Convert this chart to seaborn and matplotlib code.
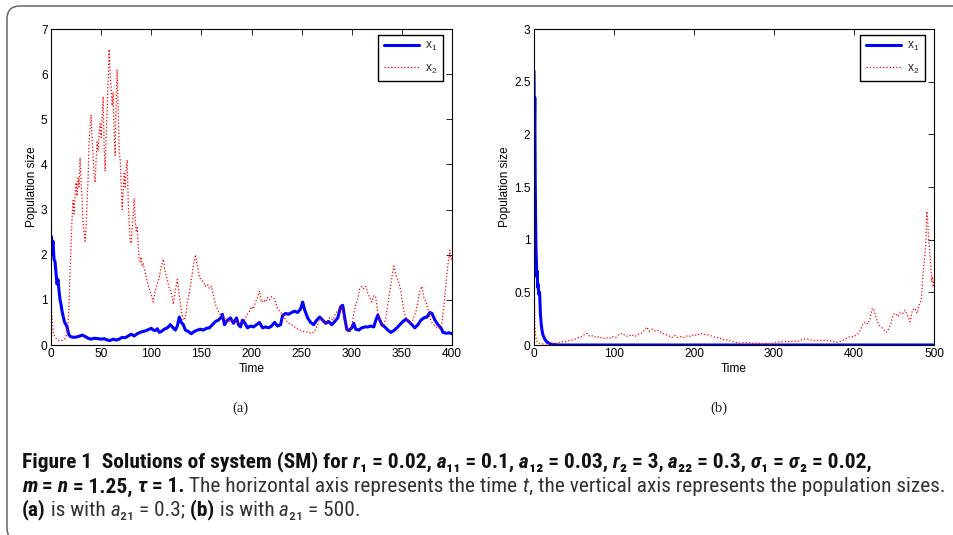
import matplotlib
matplotlib.use("Agg")
import matplotlib.pyplot as plt
import seaborn as sns
from matplotlib import font_manager as fm
from matplotlib.offsetbox import TextArea, HPacker, AnnotationBbox
from matplotlib.patches import FancyBboxPatch
from matplotlib.ticker import FormatStrFormatter

# ---------------- data ----------------
# panel (a): a21 = 0.3
t_a_x1 = [0, 0.5, 1, 2, 3, 4, 5, 6, 7, 8,
          9, 10, 11, 12, 13, 14, 15, 16, 17, 18,
          20, 23, 26, 29, 31, 34, 37, 40, 43, 47,
          50, 53, 56, 59, 62, 65, 68, 71, 74, 77,
          80, 83, 86, 89, 92, 95, 98, 100, 102, 104,
          106, 108, 110, 113, 116, 119, 121, 124, 126, 128,
          130, 132, 134, 137, 140, 143, 146, 149, 152, 155,
          158, 161, 164, 167, 170, 171, 173, 176, 179, 182,
          185, 187, 189, 191, 193, 196, 199, 202, 205, 208,
          211, 214, 217, 220, 223, 226, 229, 231, 234, 237,
          240, 243, 246, 249, 251, 253, 256, 259, 262, 265,
          268, 271, 274, 277, 280, 283, 286, 289, 291, 293,
          295, 297, 300, 302, 304, 307, 310, 313, 316, 319,
          322, 324, 326, 328, 330, 333, 336, 339, 342, 345,
          348, 351, 354, 357, 360, 363, 366, 369, 372, 375,
          378, 380, 383, 386, 389, 391, 394, 397, 400]
x_a_x1 = [2.0, 2.4, 2.1, 2.3, 1.9, 1.85, 1.6, 1.35, 1.45, 1.2,
          1.0, 0.9, 0.75, 0.65, 0.55, 0.48, 0.45, 0.4, 0.3, 0.22,
          0.18, 0.17, 0.18, 0.2, 0.22, 0.19, 0.15, 0.13, 0.15, 0.14,
          0.13, 0.14, 0.11, 0.1, 0.13, 0.11, 0.13, 0.17, 0.16, 0.2,
          0.24, 0.2, 0.25, 0.28, 0.3, 0.32, 0.35, 0.37, 0.33, 0.32,
          0.36, 0.28, 0.3, 0.35, 0.38, 0.45, 0.4, 0.33, 0.42, 0.62,
          0.5, 0.45, 0.33, 0.3, 0.25, 0.3, 0.33, 0.35, 0.33, 0.37,
          0.38, 0.45, 0.52, 0.55, 0.62, 0.68, 0.45, 0.55, 0.6, 0.48,
          0.6, 0.45, 0.4, 0.55, 0.5, 0.38, 0.42, 0.4, 0.45, 0.5,
          0.38, 0.4, 0.38, 0.42, 0.5, 0.42, 0.45, 0.65, 0.7, 0.68,
          0.72, 0.75, 0.72, 0.8, 0.95, 0.78, 0.6, 0.5, 0.45, 0.55,
          0.62, 0.55, 0.48, 0.52, 0.45, 0.52, 0.6, 0.85, 0.88, 0.6,
          0.35, 0.32, 0.38, 0.48, 0.35, 0.33, 0.38, 0.4, 0.4, 0.42,
          0.4, 0.55, 0.66, 0.55, 0.45, 0.4, 0.33, 0.28, 0.32, 0.38,
          0.45, 0.52, 0.57, 0.52, 0.45, 0.38, 0.45, 0.55, 0.6, 0.62,
          0.72, 0.7, 0.55, 0.45, 0.38, 0.28, 0.26, 0.27, 0.25]

t_a_x2 = [0, 1, 2, 3, 5, 8, 11, 14, 16, 17,
          18, 19, 20, 21, 22, 23, 24, 25, 26, 27,
          28, 29, 30, 31, 32, 33, 34, 35, 36, 37,
          38, 39, 40, 41, 42, 43, 44, 45, 46, 47,
          48, 49, 50, 51, 52, 53, 54, 55, 56, 57,
          58, 59, 60, 61, 62, 63, 64, 65, 66, 67,
          68, 69, 70, 71, 72, 73, 74, 75, 76, 77,
          78, 79, 80, 81, 82, 83, 84, 85, 86, 87,
          88, 89, 90, 91, 92, 94, 96, 98, 100, 102,
          104, 106, 108, 110, 112, 114, 116, 118, 120, 122,
          124, 126, 128, 130, 132, 134, 136, 138, 140, 142,
          144, 146, 148, 150, 152, 154, 156, 158, 160, 162,
          164, 166, 168, 170, 173, 176, 180, 184, 188, 192,
          195, 198, 200, 202, 204, 206, 208, 210, 212, 214,
          216, 218, 220, 222, 224, 226, 228, 230, 233, 236,
          240, 244, 248, 252, 256, 260, 263, 266, 268, 270,
          272, 275, 278, 281, 284, 287, 290, 292, 294, 296,
          298, 300, 302, 304, 306, 308, 310, 312, 314, 316,
          318, 320, 322, 324, 326, 328, 330, 332, 334, 336,
          338, 340, 342, 344, 346, 348, 350, 352, 354, 356,
          358, 361, 364, 366, 368, 370, 372, 374, 376, 378,
          380, 382, 385, 388, 390, 392, 394, 396, 398, 399,
          400]
x_a_x2 = [0.95, 0.6, 0.35, 0.22, 0.15, 0.1, 0.1, 0.14, 0.25, 0.45,
          0.9, 1.6, 2.2, 2.8, 3.2, 2.9, 3.3, 3.6, 3.3, 3.7,
          3.5, 4.15, 3.6, 3.2, 2.7, 2.5, 2.3, 2.6, 3.2, 3.7,
          4.5, 4.8, 5.1, 4.6, 4.2, 3.8, 3.6, 4.1, 4.5, 4.3,
          4.7, 4.9, 4.6, 5.0, 5.5, 4.4, 3.85, 4.6, 5.2, 5.9,
          6.55, 6.0, 5.7, 5.3, 5.6, 4.7, 4.2, 5.4, 6.1, 5.2,
          4.3, 4.1, 3.6, 3.0, 3.4, 3.8, 3.5, 3.9, 4.1, 3.2,
          2.7, 2.3, 2.25, 2.6, 2.9, 3.25, 2.8, 2.5, 2.6, 2.2,
          1.9, 1.85, 1.95, 1.75, 1.8, 1.6, 1.4, 1.25, 1.1, 0.95,
          1.2, 1.35, 1.5, 1.75, 1.9, 1.6, 1.45, 1.25, 1.15, 0.9,
          1.2, 1.45, 1.1, 0.75, 0.55, 0.6, 0.95, 1.15, 1.45, 1.75,
          2.0, 1.75, 1.5, 1.45, 1.4, 1.3, 1.35, 1.25, 1.3, 1.1,
          0.9, 0.8, 0.7, 0.65, 0.6, 0.5, 0.55, 0.55, 0.45, 0.5,
          0.65, 0.75, 0.85, 0.8, 0.95, 1.05, 1.2, 0.95, 1.0, 0.95,
          1.05, 1.0, 1.07, 1.05, 0.95, 0.8, 0.75, 0.7, 0.6, 0.5,
          0.45, 0.38, 0.33, 0.3, 0.28, 0.26, 0.3, 0.45, 0.58, 0.55,
          0.48, 0.5, 0.6, 0.55, 0.7, 0.78, 0.85, 0.6, 0.4, 0.3,
          0.28, 0.4, 0.7, 0.9, 1.0, 1.25, 1.3, 1.25, 1.3, 1.15,
          1.05, 0.95, 1.1, 1.05, 0.7, 0.6, 0.48, 0.45, 0.6, 0.9,
          1.2, 1.5, 1.75, 1.55, 1.45, 1.3, 1.05, 0.75, 0.6, 0.55,
          0.5, 0.55, 0.75, 0.95, 1.2, 1.3, 1.05, 0.95, 0.8, 0.6,
          0.5, 0.45, 0.38, 0.36, 0.5, 0.9, 1.35, 1.8, 2.1, 1.9,
          1.95]

# panel (b): a21 = 500
t_b_x1 = [0, 0.5, 1, 1.5, 2, 2.5, 3, 3.5, 4, 4.5,
          5, 6, 7, 8, 9, 10, 11, 12, 14, 16,
          18, 20, 30, 100, 200, 300, 400, 500]
x_b_x1 = [2.6, 2.0, 2.35, 1.6, 1.2, 0.9, 0.8, 0.65, 0.7, 0.55,
          0.58, 0.48, 0.5, 0.3, 0.2, 0.14, 0.1, 0.08, 0.05, 0.03,
          0.02, 0.01, 0.0, 0.0, 0.0, 0.0, 0.0, 0.0]

t_b_x2 = [0, 0.5, 1, 2, 4, 8, 15, 20, 25, 30,
          35, 40, 45, 50, 55, 60, 63, 66, 70, 74,
          78, 82, 86, 90, 94, 98, 102, 106, 110, 114,
          118, 122, 126, 130, 134, 138, 141, 144, 148, 152,
          156, 160, 164, 168, 172, 176, 180, 184, 188, 192,
          196, 200, 204, 208, 212, 216, 220, 224, 228, 232,
          236, 240, 245, 250, 255, 260, 265, 270, 275, 280,
          285, 290, 295, 300, 305, 310, 315, 320, 325, 330,
          335, 340, 345, 350, 355, 360, 365, 370, 375, 380,
          385, 390, 395, 400, 404, 408, 411, 414, 417, 420,
          423, 425, 428, 431, 434, 437, 440, 443, 446, 449,
          452, 455, 458, 461, 464, 467, 470, 473, 476, 479,
          482, 484, 486, 488, 490, 491, 492, 493, 494, 495,
          496, 497, 498, 499, 500]
x_b_x2 = [0.95, 0.5, 0.2, 0.08, 0.03, 0.01, 0.01, 0.01, 0.015, 0.02,
          0.03, 0.035, 0.045, 0.05, 0.07, 0.08, 0.1, 0.11, 0.08, 0.09,
          0.07, 0.08, 0.06, 0.07, 0.06, 0.08, 0.07, 0.1, 0.11, 0.09,
          0.08, 0.1, 0.08, 0.1, 0.11, 0.14, 0.17, 0.13, 0.15, 0.13,
          0.14, 0.11, 0.1, 0.09, 0.07, 0.09, 0.07, 0.08, 0.07, 0.09,
          0.08, 0.1, 0.09, 0.11, 0.1, 0.1, 0.09, 0.08, 0.07, 0.07,
          0.05, 0.05, 0.04, 0.03, 0.02, 0.02, 0.025, 0.02, 0.015, 0.02,
          0.01, 0.015, 0.01, 0.02, 0.03, 0.03, 0.035, 0.03, 0.04, 0.035,
          0.05, 0.06, 0.05, 0.04, 0.045, 0.04, 0.045, 0.04, 0.03, 0.025,
          0.04, 0.06, 0.08, 0.08, 0.1, 0.14, 0.2, 0.22, 0.2, 0.25,
          0.35, 0.33, 0.25, 0.19, 0.17, 0.15, 0.12, 0.15, 0.2, 0.29,
          0.3, 0.27, 0.31, 0.3, 0.33, 0.28, 0.22, 0.33, 0.35, 0.3,
          0.4, 0.42, 0.65, 0.8, 1.0, 1.27, 1.2, 1.05, 0.95, 0.85,
          0.75, 0.6, 0.65, 0.55, 0.6]

xticks_a = [0, 50, 100, 150, 200, 250, 300, 350, 400]
yticks_a = [0, 1, 2, 3, 4, 5, 6, 7]
xticks_b = [0, 100, 200, 300, 400, 500]
yticks_b = [0, 0.5, 1, 1.5, 2, 2.5, 3]
series_labels = [r"$\mathregular{x_1}$", r"$\mathregular{x_2}$"]
xlabel = "Time"
ylabel = "Population size"
panel_labels = ["(a)", "(b)"]

# ---------------- styling ----------------
sns.set_theme(style="white")
plt.rcParams["font.family"] = ["Liberation Sans", "DejaVu Sans"]
plt.rcParams["axes.linewidth"] = 0.8

W, H = 954, 535
fig = plt.figure(figsize=(W / 100, H / 100), dpi=100)
fig.patch.set_facecolor("white")


def fpos(x0, y_top, w, h):
    return [x0 / W, 1 - (y_top + h) / H, w / W, h / H]


axA = fig.add_axes(fpos(51, 29, 401, 316))
axB = fig.add_axes(fpos(534, 29, 400, 316))

FS = 8.6
panels = [
    (axA, t_a_x1, x_a_x1, t_a_x2, x_a_x2, (0, 400), (0, 7), xticks_a, yticks_a),
    (axB, t_b_x1, x_b_x1, t_b_x2, x_b_x2, (0, 500), (0, 3), xticks_b, yticks_b),
]
for ax, t1, v1, t2, v2, xl, yl, xt, yt in panels:
    sns.lineplot(x=t1, y=v1, ax=ax, color=(0, 0, 1), lw=2.2,
                 label=series_labels[0], estimator=None, sort=False)
    sns.lineplot(x=t2, y=v2, ax=ax, color=(1, 0, 0), lw=0.9, linestyle=":",
                 label=series_labels[1], estimator=None, sort=False)
    ax.set_xlim(*xl)
    ax.set_ylim(*yl)
    ax.set_xticks(xt)
    ax.set_yticks(yt)
    ax.yaxis.set_major_formatter(FormatStrFormatter("%g"))
    ax.xaxis.set_major_formatter(FormatStrFormatter("%g"))
    ax.tick_params(direction="in", length=4, width=0.6, top=True, right=True,
                   labelsize=FS, pad=2.5, colors="black")
    for sp in ax.spines.values():
        sp.set_color("black")
        sp.set_linewidth(0.8)
        sp.set_visible(True)
    ax.set_xlabel(xlabel, fontsize=FS, labelpad=1.5, color="black")
    ax.set_ylabel(ylabel, fontsize=FS, labelpad=2, color="black")
    ax.set_facecolor("white")
    leg = ax.legend(loc="upper right", bbox_to_anchor=(0.978, 0.981),
                    frameon=True, fancybox=False, framealpha=1,
                    edgecolor="black", fontsize=FS, handlelength=3.0,
                    handletextpad=0.5, borderpad=0.45, labelspacing=0.75,
                    borderaxespad=0)
    leg.get_frame().set_linewidth(1.0)

for lab, xc in zip(panel_labels, [240, 719]):
    fig.text(xc / W, 1 - 408 / H, lab, ha="center", va="center",
             family=["Liberation Serif", "DejaVu Serif"], fontsize=10.5,
             color="#222222")

# rounded frame around the figure block
frame = FancyBboxPatch((0.07, -0.06), 9.6, (535 - 6) / 100 + 0.06,
                       boxstyle="round,pad=0,rounding_size=0.13",
                       transform=fig.dpi_scale_trans, fill=False,
                       edgecolor="#666666", lw=1.1, clip_on=False)
fig.add_artist(frame)

# ---------------- caption ----------------
avail = {f.name for f in fm.fontManager.ttflist}
CAPF = next((f for f in ["Liberation Sans Narrow", "Roboto Condensed",
                         "Open Sans Condensed", "Roboto", "Liberation Sans"]
             if f in avail), "DejaVu Sans")

cap1 = [("Figure 1  Solutions of system (SM) for", "b"), (" r", "bi"), ("₁ = 0.02,", "b"),
        (" a", "bi"), ("₁₁ = 0.1,", "b"), (" a", "bi"), ("₁₂ = 0.03,", "b"),
        (" r", "bi"), ("₂ = 3,", "b"), (" a", "bi"), ("₂₂ = 0.3,", "b"),
        (" σ", "bi"), ("₁ =", "b"), (" σ", "bi"), ("₂ = 0.02,", "b")]
cap2 = [("m", "bi"), (" =", "b"), (" n", "bi"), (" = 1.25,", "b"), (" τ", "bi"),
        (" = 1.", "b"), (" The horizontal axis represents the time", "r"), (" t", "i"),
        (", the vertical axis represents the population sizes.", "r")]
cap3 = [("(a)", "b"), (" is with", "r"), (" a", "i"), ("₂₁ = 0.3;", "r"),
        (" (b)", "b"), (" is with", "r"), (" a", "i"), ("₂₁ = 500.", "r")]


def make_line(segs, size):
    kids = []
    for text, kind in segs:
        props = dict(fontsize=size, family=[CAPF, "DejaVu Sans"],
                     color="#111111" if "b" in kind else "#333333")
        if "b" in kind:
            props["fontweight"] = "bold"
        if "i" in kind:
            props["fontstyle"] = "italic"
        kids.append(TextArea(text, textprops=props))
    return HPacker(children=kids, align="baseline", pad=0, sep=0)


def place(segs, size, y):
    ab = AnnotationBbox(make_line(segs, size), (22 / W, 1 - y / H),
                        xycoords="figure fraction", box_alignment=(0, 0.5),
                        frameon=False, pad=0)
    fig.add_artist(ab)
    return ab


base = 11.0
targets = [(cap1, 906, 462), (cap2, 922, 487)]
scales = []
for segs, tw, y in targets:
    ab = place(segs, base, y)
    fig.canvas.draw()
    wdt = ab.get_window_extent(fig.canvas.get_renderer()).width
    scales.append(tw / wdt)
    ab.remove()
size = base * min(scales)
place(cap1, size, 462)
place(cap2, size, 487)
place(cap3, size, 510)

fig.savefig("out.png", dpi=100, facecolor="white")
